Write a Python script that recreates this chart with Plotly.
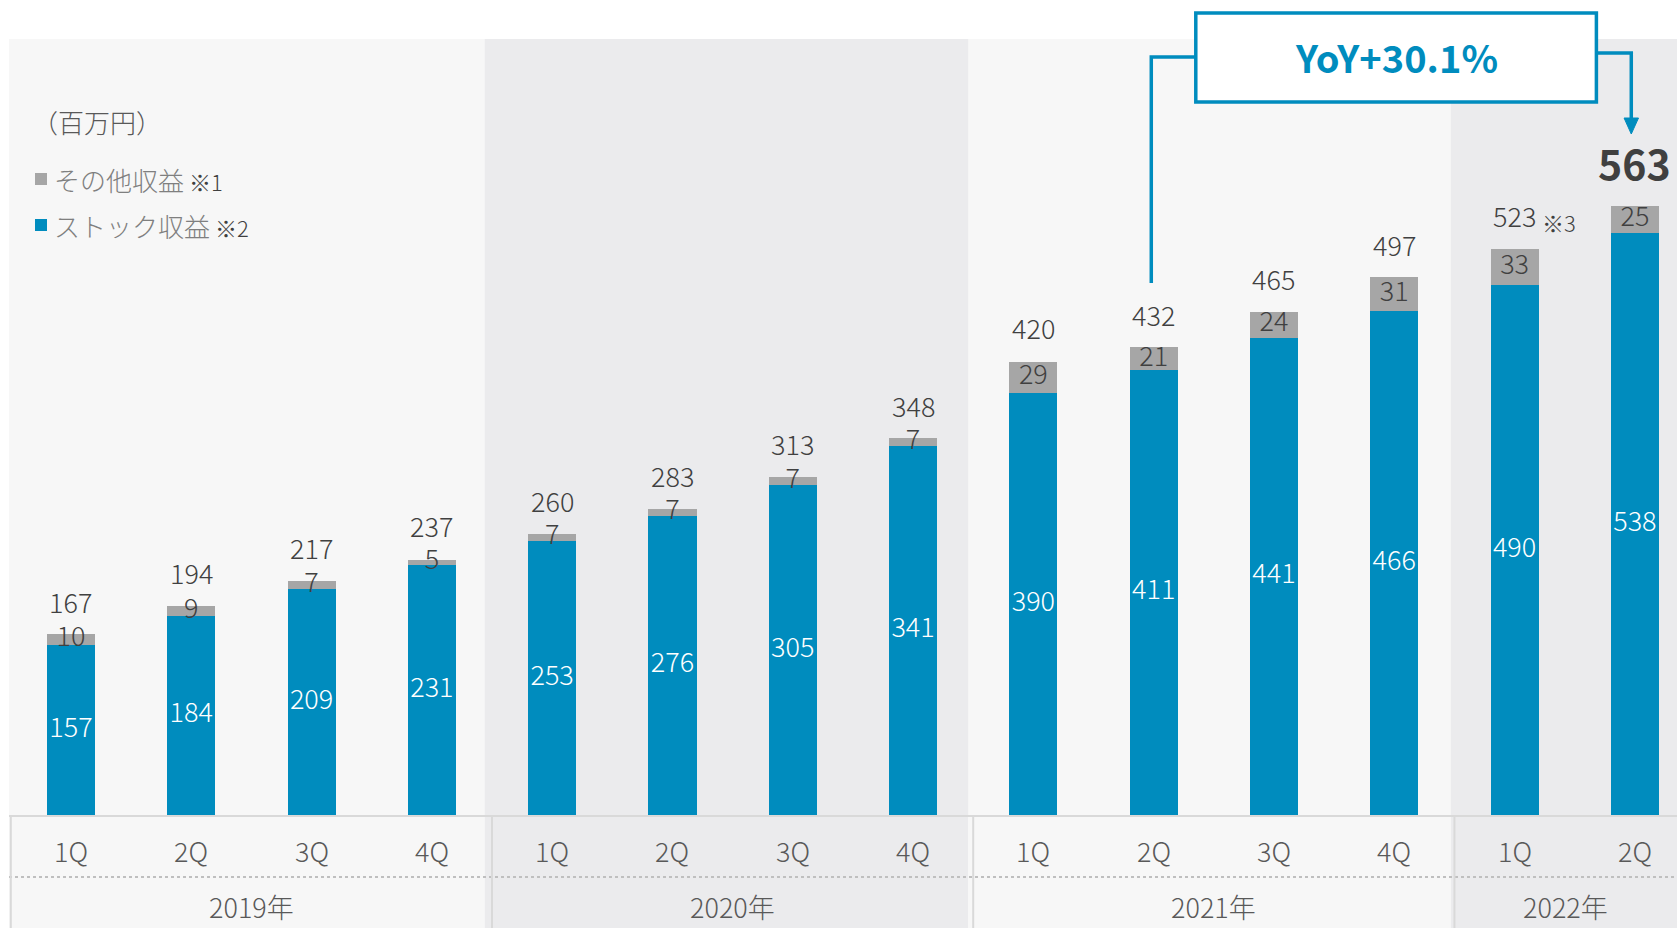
import plotly.graph_objects as go

# ---------------- data ----------------
years = ["2019年", "2020年", "2021年", "2022年"]
quarters_per_year = [4, 4, 4, 2]
quarter_labels = ["1Q", "2Q", "3Q", "4Q", "1Q", "2Q", "3Q", "4Q",
                  "1Q", "2Q", "3Q", "4Q", "1Q", "2Q"]
stock_revenue = [157, 184, 209, 231, 253, 276, 305, 341, 390, 411, 441, 466, 490, 538]
other_revenue = [10, 9, 7, 5, 7, 7, 7, 7, 29, 21, 24, 31, 33, 25]
total_revenue = [167, 194, 217, 237, 260, 283, 313, 348, 420, 432, 465, 497, 523, 563]
series_names = ["ストック収益", "その他収益"]
unit_label = "（百万円）"
yoy_label = "YoY+30.1%"

# ---------------- style ----------------
BLUE = "#008CBE"
GRAY = "#A6A6A6"
LIGHT_BG = "#F7F7F7"
DARK_BG = "#EBEBED"
LINE = "#D9D9D9"
TXT = "#404040"
AX_TXT = "#595959"
FONT = "Noto Sans CJK JP"
LW = 300
LBL = 27

W, H = 1677, 928
M_L, M_R, M_T, M_B = 9, 0, 39, 113
PLOT_H = H - M_T - M_B
PLOT_W = W - M_L - M_R


def py(p):
    """pixel y -> paper y"""
    return (H - M_B - p) / PLOT_H


def px(p):
    """pixel x -> paper x"""
    return (p - M_L) / PLOT_W


x = list(range(len(stock_revenue)))
XMIN, XMAX = -0.515, 13.35

fig = go.Figure()
fig.add_bar(x=x, y=stock_revenue, name=series_names[0], marker_color=BLUE,
            marker_line_width=0, showlegend=False)
fig.add_bar(x=x, y=other_revenue, name=series_names[1], marker_color=GRAY,
            marker_line_width=0, showlegend=False)

# labels inside blue bars
fig.add_scatter(x=x, y=[s / 2 for s in stock_revenue], mode="text",
                text=[str(s) for s in stock_revenue],
                textfont=dict(family=FONT, size=LBL, color="white", weight=LW),
                showlegend=False, hoverinfo="skip", cliponaxis=False)
# labels on gray segments
fig.add_scatter(x=x, y=[s + o / 2 for s, o in zip(stock_revenue, other_revenue)],
                mode="text", text=[str(o) for o in other_revenue],
                textfont=dict(family=FONT, size=LBL, color=TXT, weight=LW),
                showlegend=False, hoverinfo="skip", cliponaxis=False)

annotations = []
shapes = []

# totals
for i, t in enumerate(total_revenue):
    last = i == len(total_revenue) - 1
    annotations.append(dict(
        x=i, y=t, xref="x", yref="y", text=f"<b>{t}</b>" if last else str(t),
        showarrow=False, yshift=44 if last else 33, xanchor="center", yanchor="middle",
        font=dict(family=FONT, size=41 if last else LBL, color=TXT,
                  weight=700 if last else LW)))
# note mark on 2022 1Q
annotations.append(dict(x=12, y=total_revenue[12], xref="x", yref="y", text="※3",
                        showarrow=False, xshift=44, yshift=27,
                        font=dict(family=FONT, size=22, color=TXT, weight=LW)))

# background regions
bounds = [XMIN, 3.44, 7.46, 11.47, XMAX + 1]
for k in range(4):
    shapes.append(dict(type="rect", xref="x", yref="paper", x0=bounds[k], x1=bounds[k + 1],
                       y0=py(H), y1=1, fillcolor=LIGHT_BG if k % 2 == 0 else DARK_BG,
                       line_width=0, layer="below"))

# table lines
shapes.append(dict(type="line", xref="x", yref="paper", x0=XMIN, x1=XMAX + 1,
                   y0=py(816), y1=py(816), line=dict(color=LINE, width=2), layer="below"))
shapes.append(dict(type="line", xref="x", yref="paper", x0=XMIN, x1=XMAX + 1,
                   y0=py(877), y1=py(877), line=dict(color="#BFBFBF", width=2, dash="dot"),
                   layer="below"))
sep = [-0.5]
acc = 0
for n in quarters_per_year[:-1]:
    acc += n
    sep.append(acc - 0.5)
for s in sep:
    shapes.append(dict(type="line", xref="x", yref="paper", x0=s, x1=s,
                       y0=py(816), y1=py(H), line=dict(color=LINE, width=2), layer="below"))

# quarter labels
for i, q in enumerate(quarter_labels):
    annotations.append(dict(x=i, y=py(850), xref="x", yref="paper", text=q,
                            showarrow=False, yanchor="middle",
                            font=dict(family=FONT, size=LBL, color=AX_TXT, weight=LW)))
# year labels
start = 0
for yname, n in zip(years, quarters_per_year):
    a = start - 0.5
    b = min(start + n - 0.5, XMAX)
    annotations.append(dict(x=(a + b) / 2, y=py(906), xref="x", yref="paper", text=yname,
                            showarrow=False, yanchor="middle",
                            font=dict(family=FONT, size=LBL, color=AX_TXT, weight=LW)))
    start += n

# unit + legend
annotations.append(dict(x=px(30), y=py(122), xref="paper", yref="paper", text=unit_label,
                        showarrow=False, xanchor="left", yanchor="middle",
                        font=dict(family=FONT, size=26, color=AX_TXT, weight=LW)))
legend_items = [(series_names[1], "※1", GRAY, 179), (series_names[0], "※2", BLUE, 225)]
for name, note, col, yc in legend_items:
    shapes.append(dict(type="rect", xref="paper", yref="paper",
                       x0=px(35), x1=px(47), y0=py(yc + 6), y1=py(yc - 6),
                       fillcolor=col, line_width=0))
    annotations.append(dict(x=px(52), y=py(yc), xref="paper", yref="paper",
                            text=f"{name}<span style='font-size:22px;color:#404040'> {note}</span>",
                            showarrow=False, xanchor="left", yanchor="middle",
                            font=dict(family=FONT, size=26, color="#7F7F7F", weight=LW)))

# YoY callout
bx0, bx1 = 9.35, 12.68
shapes.append(dict(type="path", xref="x", yref="paper",
                   path=f"M 8.98,{py(283)} L 8.98,{py(57)} L {bx0},{py(57)}",
                   line=dict(color=BLUE, width=3.5), layer="above"))
shapes.append(dict(type="path", xref="x", yref="paper",
                   path=f"M {bx1},{py(53)} L 12.97,{py(53)} L 12.97,{py(120)}",
                   line=dict(color=BLUE, width=3.5), layer="above"))
shapes.append(dict(type="path", xref="x", yref="paper",
                   path=f"M 12.91,{py(118)} L 13.03,{py(118)} L 12.97,{py(134)} Z",
                   fillcolor=BLUE, line=dict(color=BLUE, width=1), layer="above"))
shapes.append(dict(type="rect", xref="x", yref="paper", x0=bx0, x1=bx1,
                   y0=py(102), y1=py(13), fillcolor="white",
                   line=dict(color=BLUE, width=3.5), layer="above"))
annotations.append(dict(x=(bx0 + bx1) / 2, y=py(56), xref="x", yref="paper",
                        text=f"<b>{yoy_label}</b>", showarrow=False, yanchor="middle",
                        font=dict(family=FONT, size=38, color=BLUE, weight=700)))

fig.update_layout(
    width=W, height=H,
    margin=dict(l=M_L, r=M_R, t=M_T, b=M_B, pad=0),
    barmode="stack", bargap=0.6,
    paper_bgcolor="white", plot_bgcolor=LIGHT_BG,
    font=dict(family=FONT, color=TXT),
    xaxis=dict(range=[XMIN, XMAX], showticklabels=False, showgrid=False,
               zeroline=False, showline=False, ticks=""),
    yaxis=dict(range=[0, 717], visible=False, showgrid=False, zeroline=False),
    annotations=annotations, shapes=shapes, showlegend=False,
)

fig.write_html("out.html", config={"displayModeBar": False},
               post_script="document.body.style.margin='0';")
